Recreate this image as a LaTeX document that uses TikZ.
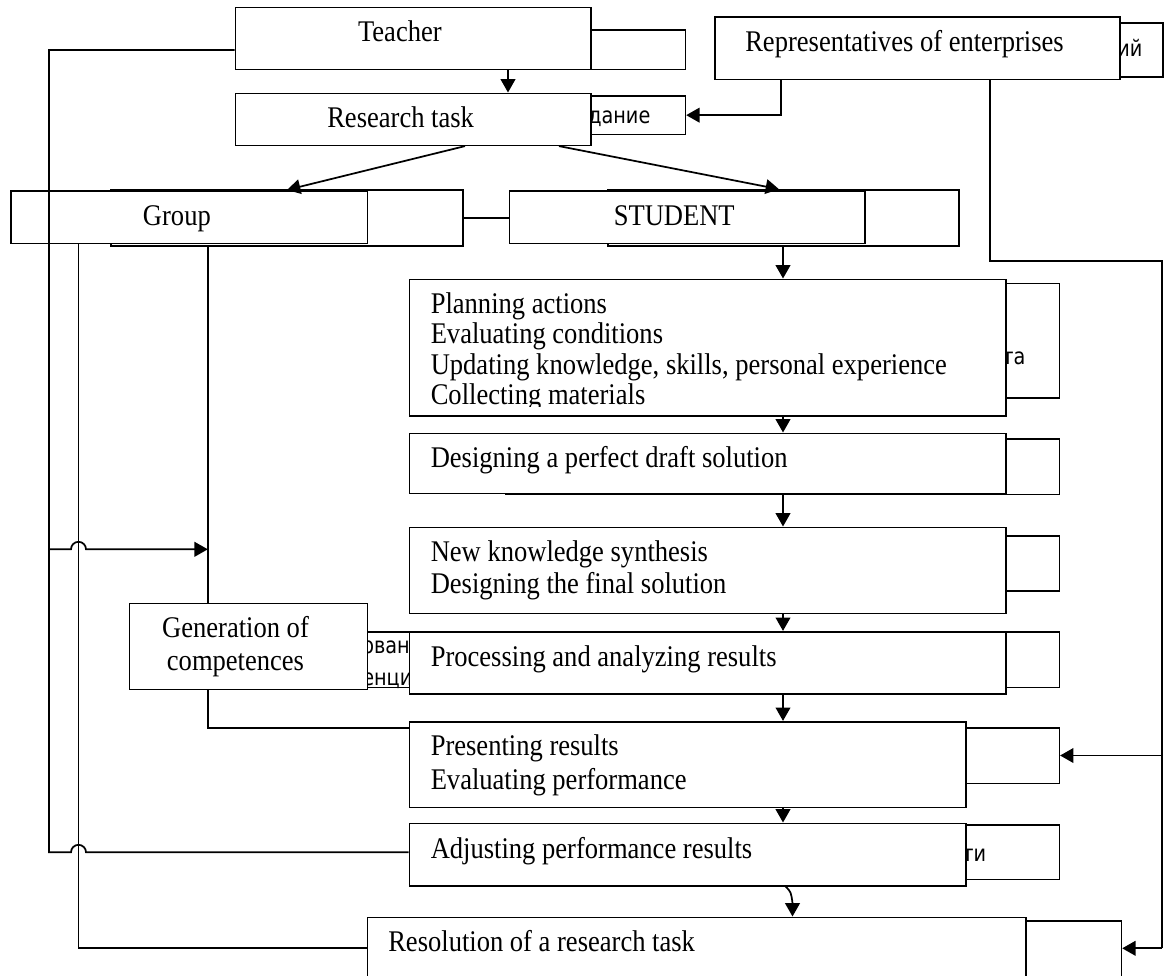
\documentclass[tikz,border=0pt]{standalone}
\usepackage{fontspec}
\setmainfont{Liberation Serif}
\newfontfamily\capfont[FakeStretch=0.885]{Liberation Serif}
\newfontfamily\cyrfont[FakeStretch=0.85]{DejaVu Sans}
\usepackage{tikz}
\usetikzlibrary{arrows.meta,fit,calc}
\tikzset{
  flow/.style={-{Triangle[length=10pt,width=11pt]},line width=1.3pt},
  link/.style={line width=1.3pt},
  box/.style={draw,line width=1.2pt,fill=white,inner sep=0pt},
  boxback/.style={box},
  caption/.style={font=\capfont\fontsize{22.5}{23}\selectfont,inner sep=0pt,anchor=base west},
  stack/.style={caption,align=left},
  frag/.style={font=\cyrfont\fontsize{17}{18}\selectfont,inner sep=0pt,anchor=base west},
}

\begin{document}
\begin{tikzpicture}[x=0.75pt,y=-0.75pt]
    \useasboundingbox (0,0) rectangle (1164,975);
    \clip (0,0) rectangle (1164,975);

    % boxes behind
    \node[boxback,fit={(331,30) (685.4,69.5)}] (teacherb) {};
    \node[boxback,fit={(331,96) (685.4,134.3)}] (researchb) {};
    \node[boxback,fit={(800,22.7) (1163,76.7)}] (repsb) {};
    \node[boxback,fit={(110.7,190) (462.7,246)}] (groupb) {};
    \node[boxback,fit={(608,190) (959,246)}] (studentb) {};
    \node[boxback,fit={(600,283.3) (1059.3,397.7)}] (planb) {};
    \node[boxback,fit={(506,439) (1059.3,494.5)}] (draftb) {};
    \node[boxback,fit={(600,535.7) (1059.3,590.7)}] (synthb) {};
    \node[boxback,fit={(250,631.7) (1059.3,687.3)}] (procb) {};
    \node[boxback,fit={(600,727.7) (1059.3,783.3)}] (presentb) {};
    \node[boxback,fit={(600,825) (1059.3,879.3)}] (adjustb) {};
    \node[boxback,fit={(600,920.7) (1121.4,995)}] (resolb) {};

    \node[frag] (fr-reps) at (1117,56.7) {ий};
    \node[frag] (fr-task) at (588,123.3) {дание};
    \node[frag] (fr-plan) at (1002,364.3) {та};
    \node[frag] (fr-gen1) at (362,653.3) {ован};
    \node[frag] (fr-gen2) at (362,685.5) {енци};
    \node[frag] (fr-adj) at (962,861.7) {ти};

    % boxes in front
    \node[box,fit={(235.3,7.3) (591.2,69.3)}] (teacher) {};
    \node[box,fit={(235.3,93.3) (591.2,145.3)}] (research) {};
    \node[box,fit={(715,16.7) (1120,79.3)}] (reps) {};
    \node[box,fit={(10.7,190.7) (367.5,243.3)}] (group) {};
    \node[box,fit={(509.3,190.7) (865,243.3)}] (student) {};
    \node[box,fit={(409.5,279.3) (1005.7,415.7)}] (plan) {};
    \node[box,fit={(409.5,433.3) (1005.7,493.3)}] (draft) {};
    \node[box,fit={(409.5,527.3) (1005.7,613.3)}] (synth) {};
    \node[box,fit={(129.3,603.3) (367.4,689.3)}] (gen) {};
    \node[box,fit={(409.5,631.7) (1005.7,694)}] (proc) {};
    \node[box,fit={(409.5,721.7) (966.2,807.3)}] (present) {};
    \node[box,fit={(409.5,823.3) (966.2,885.7)}] (adjust) {};
    \node[box,fit={(367.4,917.3) (1025.8,995)}] (resol) {};

    \node[caption] (t-teacher) at (357.8,41.7) {Teacher};
    \node[caption] (t-research) at (327,127.7) {Research task};
    \node[caption] (t-reps) at (745,51.7) {Representatives of enterprises};
    \node[caption] (t-group) at (142.7,225) {Group};
    \node[caption] (t-student) at (613.5,225.7) {STUDENT};
    \begin{scope}
      \clip (plan.north west) rectangle (1005.7,406.5);
      \node[stack,font=\capfont\fontsize{22.5}{22.7}\selectfont] (t-plan) at (430.5,404.3)
        {Planning actions\\Evaluating conditions\\
         Updating knowledge, skills, personal experience\\Collecting materials};
    \end{scope}
    \node[caption] (t-draft) at (430.5,467.3) {Designing a perfect draft solution};
    \node[stack,font=\capfont\fontsize{22.5}{23.7}\selectfont] (t-synth) at (430.5,593.3)
      {New knowledge synthesis\\Designing the final solution};
    \node[caption,align=center,anchor=base,
          font=\capfont\fontsize{22.5}{24.5}\selectfont] (t-gen) at (235.5,670)
      {Generation of\\competences};
    \node[caption] (t-proc) at (430.5,666.7) {Processing and analyzing results};
    \node[stack,font=\capfont\fontsize{22.5}{25.5}\selectfont] (t-present) at (430.5,789)
      {Presenting results\\Evaluating performance};
    \node[caption] (t-adjust) at (430.5,858.3) {Adjusting performance results};
    \node[caption] (t-resol) at (388,951.7) {Resolution of a research task};

    % connectors
    \coordinate (rtop) at (1162,261);
    \coordinate (rbot) at (1162,948.3);
    \draw[flow] (teacher.south -| 508,0) -- (research.north -| 508,0);
    \draw[flow] (reps.south -| 781,0) |- (researchb.east);
    \draw[flow] (research.south -| 465,0) -- (group.north -| 287,0);
    \draw[flow] (research.south -| 559,0) -- (studentb.north -| 779,0);
    \draw[link] (groupb.east) -- (student.west |- groupb.east);
    \draw[flow] (studentb.south -| 783,0) -- (plan.north -| 783,0);
    \draw[flow] (plan.south -| 783,0) -- (draft.north -| 783,0);
    \draw[flow] (draft.south -| 783,0) -- (synth.north -| 783,0);
    \draw[flow] (synth.south -| 783,0) -- (proc.north -| 783,0);
    \draw[flow] (proc.south -| 783,0) -- (present.north -| 783,0);
    \draw[flow] (present.south -| 783,0) -- (adjust.north -| 783,0);
    \draw[flow] (adjust.south -| 785.6,0) .. controls (791,892) .. (792.5,903)
      -- (resol.north -| 792.5,0);

    \draw[link] (teacher.west |- 0,50) -| (49,852.3) -- (71,852.3)
      arc[start angle=180,end angle=360,radius=7.5] -- (adjust.west |- 0,852.3);
    \draw[flow] (49,549.3) -- (71,549.3)
      arc[start angle=180,end angle=360,radius=7.5] -- (207.8,549.3);
    \draw[link] (group.south -| 78.5,0) |- (resol.west |- 0,948.3);
    \draw[link] (groupb.south -| 207.8,0) -- (gen.north -| 207.8,0);
    \draw[link] (gen.south -| 207.8,0) |- (present.west |- 0,727.7);

    \draw[link] (reps.south -| 989.7,0) |- (rtop) -- (rbot);
    \draw[flow] (presentb.east -| rtop) -- (presentb.east);
    \draw[flow] (rbot) -- (resolb.east |- rbot);
\end{tikzpicture}
\end{document}
